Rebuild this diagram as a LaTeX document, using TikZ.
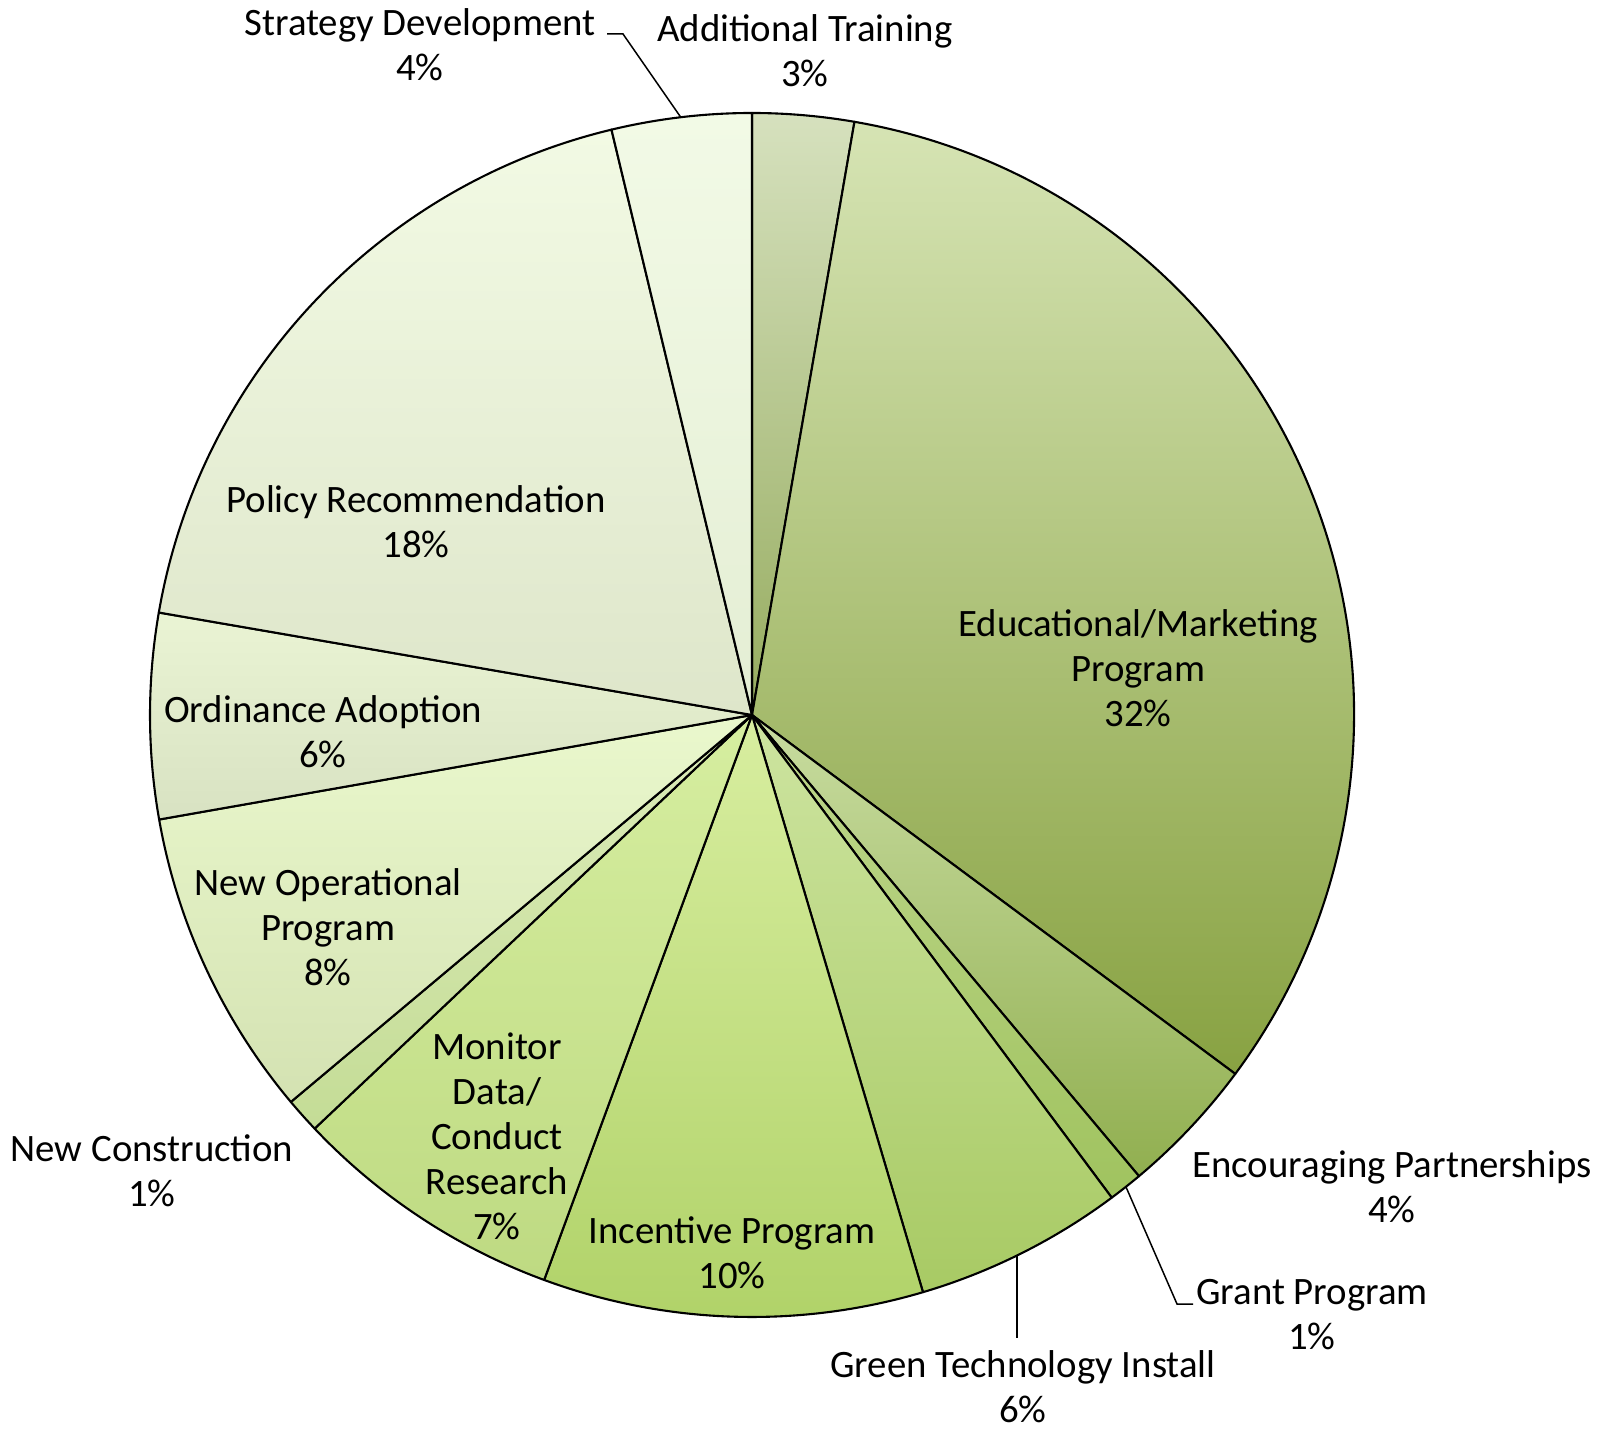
\documentclass[tikz,border=0pt]{standalone}
\usepackage{fontspec}
\setmainfont{Carlito}
\usetikzlibrary{calc}
\begin{document}
\begin{tikzpicture}[x=1pt,y=1pt,
  slice/.style={draw=black,line width=2.1pt,line join=round},
  lbl/.style={align=center,font=\fontsize{38.8}{45}\selectfont,inner sep=0pt},
  leader/.style={draw=black,line width=1.5pt}]
\useasboundingbox[fill=white] (0,0) rectangle (1608,1430);
\coordinate (C) at (752,715);
\def\R{602}
% slices
\draw[slice,top color={rgb,255:red,214;green,225;blue,190},bottom color={rgb,255:red,150;green,172;blue,95}] (C) -- ++(90:\R) arc[start angle=90,end angle=80.2,radius=\R] -- cycle;
\draw[slice,top color={rgb,255:red,214;green,228;blue,180},bottom color={rgb,255:red,136;green,162;blue,66}] (C) -- ++(80.2:\R) arc[start angle=80.2,end angle=-36.6,radius=\R] -- cycle;
\draw[slice,top color={rgb,255:red,200;green,220;blue,160},bottom color={rgb,255:red,145;green,175;blue,80}] (C) -- ++(-36.6:\R) arc[start angle=-36.6,end angle=-50,radius=\R] -- cycle;
\draw[slice,top color={rgb,255:red,190;green,215;blue,140},bottom color={rgb,255:red,160;green,195;blue,95}] (C) -- ++(-50:\R) arc[start angle=-50,end angle=-53.3,radius=\R] -- cycle;
\draw[slice,top color={rgb,255:red,205;green,228;blue,160},bottom color={rgb,255:red,168;green,202;blue,100}] (C) -- ++(-53.3:\R) arc[start angle=-53.3,end angle=-73.5,radius=\R] -- cycle;
\draw[slice,top color={rgb,255:red,216;green,238;blue,160},bottom color={rgb,255:red,176;green,210;blue,104}] (C) -- ++(-73.5:\R) arc[start angle=-73.5,end angle=-110.2,radius=\R] -- cycle;
\draw[slice,top color={rgb,255:red,214;green,238;blue,160},bottom color={rgb,255:red,190;green,218;blue,130}] (C) -- ++(-110.2:\R) arc[start angle=-110.2,end angle=-136.6,radius=\R] -- cycle;
\draw[slice,top color={rgb,255:red,220;green,236;blue,185},bottom color={rgb,255:red,196;green,220;blue,150}] (C) -- ++(-136.6:\R) arc[start angle=-136.6,end angle=-140,radius=\R] -- cycle;
\draw[slice,top color={rgb,255:red,234;green,248;blue,205},bottom color={rgb,255:red,212;green,226;blue,178}] (C) -- ++(-140:\R) arc[start angle=-140,end angle=-170,radius=\R] -- cycle;
\draw[slice,top color={rgb,255:red,234;green,244;blue,212},bottom color={rgb,255:red,216;green,226;blue,194}] (C) -- ++(-170:\R) arc[start angle=-170,end angle=-189.8,radius=\R] -- cycle;
\draw[slice,top color={rgb,255:red,242;green,250;blue,228},bottom color={rgb,255:red,222;green,230;blue,202}] (C) -- ++(-189.8:\R) arc[start angle=-189.8,end angle=-256.5,radius=\R] -- cycle;
\draw[slice,top color={rgb,255:red,242;green,250;blue,230},bottom color={rgb,255:red,228;green,238;blue,212}] (C) -- ++(-256.5:\R) arc[start angle=-256.5,end angle=-270,radius=\R] -- cycle;
% labels
\node[lbl] (strat) at (420,1385) {Strategy Development\\4\%};
\node[lbl] (addtr) at (805,1379) {Additional Training\\3\%};
\node[lbl] (edu) at (1138,762) {Educational/Marketing\\Program\\32\%};
\node[lbl] (pol) at (416,908) {Policy Recommendation\\18\%};
\node[lbl] (ord) at (323,698) {Ordinance Adoption\\6\%};
\node[lbl] (newop) at (328,503) {New Operational\\Program\\8\%};
\node[lbl] (mon) at (497,294) {Monitor\\Data/\\Conduct\\Research\\7\%};
\node[lbl] (inc) at (732,177) {Incentive Program\\10\%};
\node[lbl] (newcon) at (152,259) {New Construction\\1\%};
\node[lbl] (enc) at (1392,243) {Encouraging Partnerships\\4\%};
\node[lbl] (grant) at (1312,115) {Grant Program\\1\%};
\node[lbl] (green) at (1023,43) {Green Technology Install\\6\%};
% leaders
\coordinate (sA) at (607,1396);
\coordinate (sB) at (623,1396);
\coordinate (sP) at ($(C)+(96.8:\R)$);
\draw[leader] (sA) -- (sB) -- (sP);
\coordinate (gP) at ($(C)+(-51.6:\R)$);
\coordinate (gB) at (1177,126);
\coordinate (gA) at (1193,126);
\draw[leader] (gP) -- (gB) -- (gA);
\coordinate (tP) at ($(C)+(-63.9:\R)$);
\coordinate (tA) at (1017,92);
\draw[leader] (tP) -- (tP |- tA);
\end{tikzpicture}
\end{document}
